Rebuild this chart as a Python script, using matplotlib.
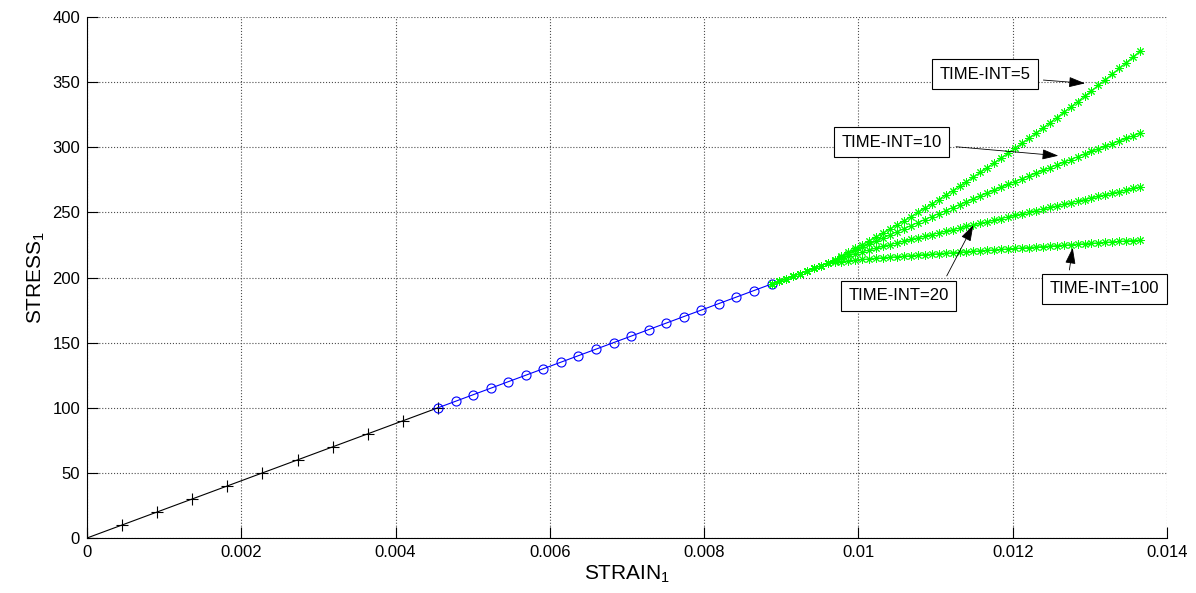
import matplotlib

matplotlib.use("Agg")
import matplotlib.pyplot as plt  # noqa: E402

plt.rcParams["font.family"] = ["Liberation Sans", "DejaVu Sans"]
plt.rcParams["mathtext.fontset"] = "custom"
plt.rcParams["mathtext.rm"] = "Liberation Sans"
plt.rcParams["mathtext.it"] = "Liberation Sans"

# elastic part, loaded in steps of 10
strain_elastic = [0, 0.000455, 0.00091, 0.001365, 0.00182, 0.002275, 0.00273,
                  0.003185, 0.00364, 0.004095, 0.00455]
stress_elastic = [0, 10, 20, 30, 40, 50, 60, 70, 80, 90, 100]

# second stage, steps of 5
strain_mid = [0.00455, 0.004778, 0.005005, 0.005233, 0.00546, 0.005688, 0.005915,
              0.006143, 0.00637, 0.006598, 0.006825, 0.007053, 0.00728, 0.007508,
              0.007735, 0.007963, 0.00819, 0.008418, 0.008645, 0.008873]
stress_mid = [100, 105, 110, 115, 120, 125, 130, 135, 140, 145, 150, 155, 160,
              165, 170, 175, 180, 185, 190, 195]

# third stage, one curve per time interval
strain_visc = [0.00888, 0.00897, 0.00906, 0.00915, 0.00924, 0.00933, 0.00942,
               0.00951, 0.00960, 0.00969, 0.00978, 0.00987, 0.00996, 0.01005,
               0.01014, 0.01023, 0.01032, 0.01041, 0.01050, 0.01059, 0.01068,
               0.01077, 0.01086, 0.01095, 0.01104, 0.01113, 0.01122, 0.01131,
               0.01140, 0.01149, 0.01158, 0.01167, 0.01176, 0.01185, 0.01194,
               0.01203, 0.01212, 0.01221, 0.01230, 0.01239, 0.01248, 0.01257,
               0.01266, 0.01275, 0.01284, 0.01293, 0.01302, 0.01311, 0.01320,
               0.01329, 0.01338, 0.01347, 0.01356, 0.01365]
stress_int5 = [195, 197, 199, 201, 203, 205, 207, 209, 211,
               213.8, 216.6, 219.4, 222.3, 225.2, 228.2, 231.2, 234.2, 237.3,
               240.4, 243.5, 246.7, 250.0, 253.2, 256.5, 259.9, 263.3, 266.7,
               270.2, 273.7, 277.2, 280.8, 284.4, 288.1, 291.8, 295.5, 299.3,
               303.1, 307.0, 310.8, 314.8, 318.7, 322.8, 326.8, 330.9, 335.0,
               339.2, 343.4, 347.6, 351.9, 356.2, 360.6, 365.0, 369.4, 373.9]
stress_int10 = [195, 197, 199, 201, 203, 205, 207, 209, 211,
                213.5, 215.9, 218.4, 220.8, 223.2, 225.6, 228.0, 230.4, 232.8,
                235.2, 237.5, 239.9, 242.2, 244.5, 246.8, 249.1, 251.4, 253.7,
                256.0, 258.2, 260.4, 262.7, 264.9, 267.1, 269.3, 271.5, 273.7,
                275.8, 278.0, 280.1, 282.2, 284.3, 286.4, 288.5, 290.6, 292.7,
                294.7, 296.8, 298.8, 300.8, 302.8, 304.8, 306.8, 308.8, 310.8]
stress_int20 = [195, 197, 199, 201, 203, 205, 207, 209, 211,
                213.0, 214.8, 216.6, 218.2, 219.7, 221.2, 222.6, 224.0, 225.3,
                226.6, 227.9, 229.2, 230.5, 231.7, 233.0, 234.2, 235.5, 236.7,
                237.9, 239.2, 240.4, 241.6, 242.8, 244.0, 245.3, 246.5, 247.7,
                248.9, 250.1, 251.4, 252.6, 253.8, 255.0, 256.2, 257.4, 258.6,
                259.9, 261.1, 262.3, 263.5, 264.7, 265.9, 267.1, 268.4, 269.6]
stress_int100 = [195, 197, 199, 201, 203, 205, 207, 209, 211,
                 211.7, 212.3, 212.9, 213.4, 213.9, 214.3, 214.8, 215.2, 215.6,
                 216.0, 216.4, 216.8, 217.2, 217.6, 217.9, 218.3, 218.7, 219.1,
                 219.4, 219.8, 220.2, 220.5, 220.9, 221.2, 221.6, 222.0, 222.3,
                 222.7, 223.0, 223.4, 223.8, 224.1, 224.5, 224.8, 225.2, 225.6,
                 225.9, 226.3, 226.6, 227.0, 227.4, 227.7, 228.1, 228.4, 228.8]

# label, text-box centre, arrow tail, arrow head (data coordinates)
notes = [
    ("TIME-INT=5", (0.011641, 355.9), (0.012397, 351.6), (0.012937, 349.1)),
    ("TIME-INT=10", (0.010429, 304.0), (0.011265, 300.4), (0.012591, 293.5)),
    ("TIME-INT=20", (0.010517, 186.0), (0.011144, 201.2), (0.011489, 240.3)),
    ("TIME-INT=100", (0.013190, 191.4), (0.012734, 205.8), (0.012777, 222.9)),
]

fig = plt.figure(figsize=(11.96, 5.93), dpi=100)
ax = fig.add_axes([0.0727, 0.0927, 0.9031, 0.8786])

ax.plot(strain_elastic, stress_elastic, color="k", lw=0.8, marker="+", ms=8, mew=0.8)
ax.plot(strain_mid, stress_mid, color="#0000ff", lw=0.8, marker="o", ms=6.5,
        mfc="none", mew=0.8)
for stress in (stress_int5, stress_int10, stress_int20, stress_int100):
    ax.plot(strain_visc, stress, color="#00ff00", lw=0.8, marker=(8, 2, 0),
            ms=6, mew=0.7)

for label, center, tail, head in notes:
    ax.text(center[0], center[1], label, fontsize=12, ha="center", va="center",
            bbox=dict(boxstyle="square,pad=0.45", fc="w", ec="k", lw=0.8), zorder=5)
    ax.annotate("", xy=head, xytext=tail,
                arrowprops=dict(arrowstyle="-|>,head_length=1.0,head_width=0.32",
                                color="k", lw=0.6, shrinkA=0, shrinkB=0),
                zorder=5)

ax.set_xlim(0, 0.014)
ax.set_ylim(0, 400)
ax.set_xticks([0, 0.002, 0.004, 0.006, 0.008, 0.01, 0.012, 0.014])
ax.set_xticklabels(["0", "0.002", "0.004", "0.006", "0.008", "0.01", "0.012", "0.014"])
ax.set_yticks(range(0, 401, 50))
ax.tick_params(direction="in", length=8, width=0.8, labelsize=12, pad=5)
ax.spines["top"].set_visible(False)
ax.spines["right"].set_visible(False)
ax.grid(True, linestyle=":", color="0.3", lw=0.8)
ax.set_xlabel("STRAIN$_1$", fontsize=15, labelpad=3)
ax.set_ylabel("STRESS$_1$", fontsize=15, labelpad=4)

fig.savefig("out.png", dpi=100)
